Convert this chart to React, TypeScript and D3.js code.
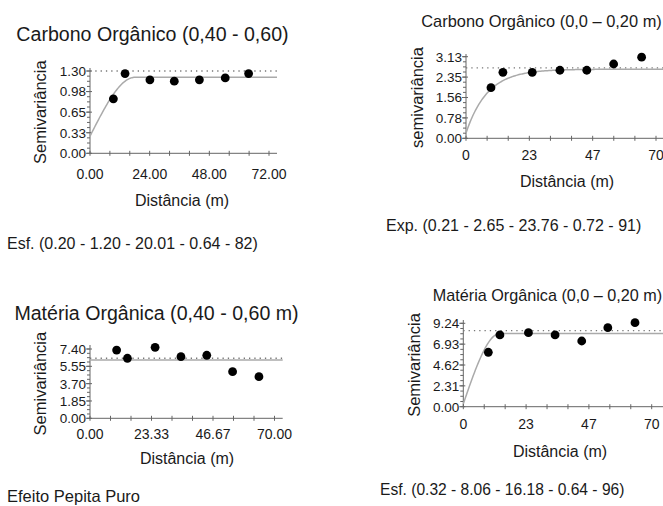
import * as d3 from 'd3'

// semivariogram points (distance, semivariance)
const co4060Dist = [9.4, 14.1, 24.1, 33.9, 44, 54.4, 63.8]
const co4060Gamma = [0.86, 1.26, 1.16, 1.14, 1.16, 1.19, 1.26]

const co020Dist = [9.2, 13.6, 24.4, 34.6, 44.5, 54.4, 64.7]
const co020Gamma = [1.94, 2.53, 2.53, 2.61, 2.61, 2.85, 3.11]

const mo4060Dist = [10.1, 14.2, 24.7, 34.5, 44.3, 54.1, 64.1]
const mo4060Gamma = [7.29, 6.41, 7.58, 6.58, 6.73, 4.98, 4.44]

const mo020Dist = [9.3, 13.6, 24.2, 34.1, 44, 53.7, 63.8]
const mo020Gamma = [6.03, 7.95, 8.2, 7.95, 7.28, 8.76, 9.31]

// tick labels
const xLabelsA = ['0.00', '24.00', '48.00', '72.00']
const xLabelsB = ['0', '23', '47', '70']
const xLabelsC = ['0.00', '23.33', '46.67', '70.00']
const yLabels1 = ['0.00', '0.33', '0.65', '0.98', '1.30']
const yLabels2 = ['0.00', '0.78', '1.56', '2.35', '3.13']
const yLabels3 = ['0.00', '1.85', '3.70', '5.55', '7.40']
const yLabels4 = ['0.00', '2.31', '4.62', '6.93', '9.24']

const titles = [
  'Carbono Orgânico (0,40 - 0,60)',
  'Carbono Orgânico (0,0 – 0,20 m)',
  'Matéria Orgânica (0,40 - 0,60 m)',
  'Matéria Orgânica (0,0 – 0,20 m)'
]
const footnotes = [
  'Esf. (0.20 - 1.20 - 20.01 - 0.64 - 82)',
  'Exp. (0.21 - 2.65 - 23.76 - 0.72 - 91)',
  'Efeito Pepita Puro',
  'Esf. (0.32 - 8.06 - 16.18 - 0.64 - 96)'
]

// fitted model: [type, nugget, sill, range], and sample variance (dotted)
const models = [
  ['sph', 0.27, 1.2, 18],
  ['exp', 0.2, 2.65, 23.76],
  ['pure', 6.23, 6.23, 0],
  ['sph', 0.32, 8.1, 13.5]
] as const
const variances = [1.3, 2.7, 6.41, 8.43]

const FONT = '"Liberation Sans", Arial, sans-serif'

function modelValue(m: typeof models[number], h: number) {
  const [type, c0, sill, a] = m
  if (type === 'pure') return sill
  if (type === 'exp') return c0 + (sill - c0) * (1 - Math.exp((-3 * h) / a))
  if (h >= a) return sill
  const r = h / a
  return c0 + (sill - c0) * (1.5 * r - 0.5 * r * r * r)
}

type PanelProps = {
  dist: number[]
  gamma: number[]
  xMax: number
  xLabels: string[]
  yMax: number
  yLabels: string[]
  model: typeof models[number]
  variance: number
  left: number
  right: number
  axisEnd: number
  bottom: number
  top: number
  yAxisTop: number
  title: string
  titleX: number
  titleY: number
  titleSize: number
  yTitle: string
  yTitleX: number
  xTickY: number
  xTitleX: number
  xTitleY: number
  note: string
  noteX: number
  noteY: number
  noteSize: number
}

function Panel(p: PanelProps) {
  const x = d3.scaleLinear().domain([0, p.xMax]).range([p.left, p.right])
  const y = d3.scaleLinear().domain([0, p.yMax]).range([p.bottom, p.top])
  const xEndVal = x.invert(p.axisEnd)

  const xMajor = d3.range(0, 4).map(i => (i * p.xMax) / 3)
  const xMinor = d3.range(0, 10).map(i => (i * p.xMax) / 9).filter(v => x(v) <= p.axisEnd)
  const yMajor = d3.range(0, 5).map(i => (i * p.yMax) / 4)
  const yMinor = d3.range(0, 17).map(i => (i * p.yMax) / 16)

  const curvePts = d3.range(0, 201).map(i => (i * xEndVal) / 200)
  const line = d3
    .line<number>()
    .x(d => x(d))
    .y(d => y(modelValue(p.model, d)))

  return (
    <g fontFamily={FONT} fill="#1a1a1a">
      <text x={p.titleX} y={p.titleY} fontSize={p.titleSize} textAnchor="middle">
        {p.title}
      </text>

      {/* axes */}
      <line x1={p.left} x2={p.axisEnd} y1={p.bottom} y2={p.bottom} stroke="#666" />
      <line x1={p.left} x2={p.left} y1={p.bottom} y2={p.yAxisTop} stroke="#666" />
      {xMinor.map((v, i) => (
        <line key={'xm' + i} x1={x(v)} x2={x(v)} y1={p.bottom - 2.5} y2={p.bottom + 2.5} stroke="#666" />
      ))}
      {yMinor.map((v, i) => (
        <line key={'ym' + i} x1={p.left - 3} x2={p.left} y1={y(v)} y2={y(v)} stroke="#666" />
      ))}
      {yMajor.map((v, i) => (
        <line key={'yM' + i} x1={p.left - 4} x2={p.left + 2} y1={y(v)} y2={y(v)} stroke="#666" />
      ))}
      {xMajor.map((v, i) => (
        <text key={'xl' + i} x={x(v)} y={p.xTickY} fontSize={14} textAnchor="middle">
          {p.xLabels[i]}
        </text>
      ))}
      {yMajor.map((v, i) => (
        <text key={'yl' + i} x={p.left - 4} y={y(v)} dy="0.36em" fontSize={13.5} textAnchor="end">
          {p.yLabels[i]}
        </text>
      ))}
      <text
        transform={`translate(${p.yTitleX},${(p.bottom + p.top) / 2}) rotate(-90)`}
        fontSize={16.5}
        textAnchor="middle"
      >
        {p.yTitle}
      </text>
      <text x={p.xTitleX} y={p.xTitleY} fontSize={16} textAnchor="middle">
        Distância (m)
      </text>

      {/* sample variance and fitted model */}
      <line
        x1={p.left}
        x2={p.axisEnd}
        y1={y(p.variance)}
        y2={y(p.variance)}
        stroke="#777"
        strokeWidth={1.3}
        strokeDasharray="1.3 4"
      />
      <path d={line(curvePts) || ''} fill="none" stroke="#aaa" strokeWidth={1.5} />

      {p.dist.map((d, i) => (
        <circle key={'pt' + i} cx={x(d)} cy={y(p.gamma[i])} r={4.4} fill="#000" />
      ))}

      <text x={p.noteX} y={p.noteY} fontSize={p.noteSize}>
        {p.note}
      </text>
    </g>
  )
}

export default function App() {
  return (
    <svg
      width={663}
      height={506}
      style={{ position: 'absolute', left: 0, top: 0, background: '#fff' }}
    >
      <Panel
        dist={co4060Dist}
        gamma={co4060Gamma}
        xMax={72}
        xLabels={xLabelsA}
        yMax={1.3}
        yLabels={yLabels1}
        model={models[0]}
        variance={variances[0]}
        left={90}
        right={269}
        axisEnd={277}
        bottom={153.3}
        top={71}
        yAxisTop={68}
        title={titles[0]}
        titleX={152.5}
        titleY={41}
        titleSize={19.6}
        yTitle="Semivariância"
        yTitleX={46}
        xTickY={179}
        xTitleX={182}
        xTitleY={206}
        note={footnotes[0]}
        noteX={7}
        noteY={249}
        noteSize={16}
      />
      <Panel
        dist={co020Dist}
        gamma={co020Gamma}
        xMax={70}
        xLabels={xLabelsB}
        yMax={3.13}
        yLabels={yLabels2}
        model={models[1]}
        variance={variances[1]}
        left={466}
        right={656}
        axisEnd={663}
        bottom={138.3}
        top={56.7}
        yAxisTop={54}
        title={titles[1]}
        titleX={541.5}
        titleY={27}
        titleSize={16.4}
        yTitle="semivariância"
        yTitleX={423}
        xTickY={159.5}
        xTitleX={567}
        xTitleY={187}
        note={footnotes[1]}
        noteX={386}
        noteY={231}
        noteSize={16}
      />
      <Panel
        dist={mo4060Dist}
        gamma={mo4060Gamma}
        xMax={70}
        xLabels={xLabelsC}
        yMax={7.4}
        yLabels={yLabels3}
        model={models[2]}
        variance={variances[2]}
        left={90}
        right={274.5}
        axisEnd={282.7}
        bottom={418.3}
        top={349}
        yAxisTop={345}
        title={titles[2]}
        titleX={156.5}
        titleY={320}
        titleSize={19.6}
        yTitle="Semivariância"
        yTitleX={46}
        xTickY={438.5}
        xTitleX={187}
        xTitleY={463.5}
        note={footnotes[2]}
        noteX={7}
        noteY={501.5}
        noteSize={16.5}
      />
      <Panel
        dist={mo020Dist}
        gamma={mo020Gamma}
        xMax={70}
        xLabels={xLabelsB}
        yMax={9.24}
        yLabels={yLabels4}
        model={models[3]}
        variance={variances[3]}
        left={463.3}
        right={651.7}
        axisEnd={663}
        bottom={406.7}
        top={323.3}
        yAxisTop={320}
        title={titles[3]}
        titleX={547.5}
        titleY={300.5}
        titleSize={16.2}
        yTitle="Semivariância"
        yTitleX={420}
        xTickY={428.5}
        xTitleX={560}
        xTitleY={457}
        note={footnotes[3]}
        noteX={380}
        noteY={495}
        noteSize={15.6}
      />
    </svg>
  )
}
